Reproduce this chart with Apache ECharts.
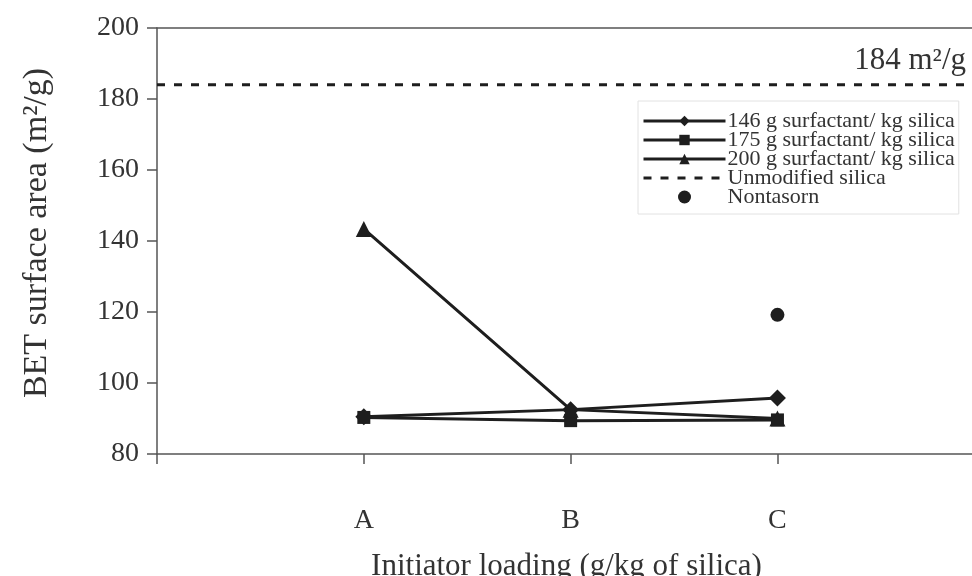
<!DOCTYPE html>
<html>
<head>
<meta charset="utf-8">
<script src="https://cdn.jsdelivr.net/npm/echarts@6/dist/echarts.min.js"></script>
<style>html,body{margin:0;padding:0;background:#fff;}#c{width:972px;height:576px;}</style>
</head>
<body>
<div id="c"></div>
<script>
const categories = ['A', 'B', 'C'];
const s146 = [90.5, 92.5, 95.8];
const s175 = [90.3, 89.4, 89.6];
const s200 = [143.4, 92.5, 90.0];
const unmodified = 184;
const nontasorn = [[3, 119.2]];
const yTicks = [80, 100, 120, 140, 160, 180, 200];

const F = '"Liberation Serif", "DejaVu Serif", serif';
const C = '#1e1e1e';
const XMAX = 3.96;
const toXY = arr => arr.map((v, i) => [i + 1, v]);

const chart = echarts.init(document.getElementById('c'));
chart.setOption({
  animation: false,
  backgroundColor: '#fff',
  grid: { left: 157, right: -4, top: 28, bottom: 122, containLabel: false, outerBoundsMode: 'none' },
  xAxis: [{
    type: 'value', min: 0, max: XMAX, interval: 1,
    name: 'Initiator loading (g/kg of silica)', nameLocation: 'middle', nameGap: 97,
    nameTextStyle: { fontFamily: F, fontSize: 31, color: '#333' },
    axisLine: { lineStyle: { color: '#555', width: 1.5 } },
    axisTick: { length: 10, lineStyle: { color: '#555', width: 1.5 } },
    axisLabel: { margin: 53, fontFamily: F, fontSize: 28, color: '#333',
      formatter: v => (Math.abs(v - Math.round(v)) < 1e-6 && categories[Math.round(v) - 1]) ? categories[Math.round(v) - 1] : '' },
    splitLine: { show: false }
  }, {
    type: 'value', position: 'top', min: 0, max: XMAX,
    axisLine: { show: true, lineStyle: { color: '#555', width: 1.5 } },
    axisTick: { show: false }, axisLabel: { show: false }, splitLine: { show: false }
  }],
  yAxis: {
    type: 'value', min: yTicks[0], max: yTicks[yTicks.length - 1], interval: 20,
    name: 'BET surface area (m²/g)', nameLocation: 'middle', nameGap: 103,
    nameTextStyle: { fontFamily: F, fontSize: 34, color: '#333', padding: [0, 0, 0, 16] },
    axisLine: { show: true, lineStyle: { color: '#555', width: 1.5 } },
    axisTick: { show: true, length: 10, lineStyle: { color: '#555', width: 1.5 } },
    axisLabel: { margin: 18, fontFamily: F, fontSize: 28, color: '#333' },
    splitLine: { show: false }
  },
  legend: {
    orient: 'vertical', left: 638, top: 101,
    itemWidth: 82, itemHeight: 13, itemGap: -3,
    padding: [9, 4, 6, 4],
    borderColor: '#e2e2e2', borderWidth: 1,
    lineStyle: { width: 3 },
    textStyle: { fontFamily: F, fontSize: 22, lineHeight: 18, color: '#333', padding: [0, 0, 0, -3] },
    data: [
      '146 g surfactant/ kg silica',
      '175 g surfactant/ kg silica',
      '200 g surfactant/ kg silica',
      { name: 'Unmodified silica', itemStyle: { opacity: 0 } },
      'Nontasorn'
    ]
  },
  graphic: [{
    type: 'text', right: 6, top: 45,
    style: { text: '184 m²/g', fontFamily: F, fontSize: 31, fill: '#333' }
  }],
  series: [
    { name: 'Unmodified silica', type: 'line', data: [[0, unmodified], [XMAX, unmodified]],
      symbol: 'none', lineStyle: { type: [8, 9], width: 3, color: C }, itemStyle: { color: C } },
    { name: '146 g surfactant/ kg silica', type: 'line', data: toXY(s146),
      symbol: 'diamond', symbolSize: 17, lineStyle: { width: 3, color: C }, itemStyle: { color: C } },
    { name: '175 g surfactant/ kg silica', type: 'line', data: toXY(s175),
      symbol: 'rect', symbolSize: 13, lineStyle: { width: 3, color: C }, itemStyle: { color: C } },
    { name: '200 g surfactant/ kg silica', type: 'line', data: toXY(s200),
      symbol: 'triangle', symbolSize: 16, lineStyle: { width: 3, color: C }, itemStyle: { color: C } },
    { name: 'Nontasorn', type: 'scatter', data: nontasorn,
      symbol: 'circle', symbolSize: 14, itemStyle: { color: C, opacity: 1 } }
  ]
});
</script>
</body>
</html>
